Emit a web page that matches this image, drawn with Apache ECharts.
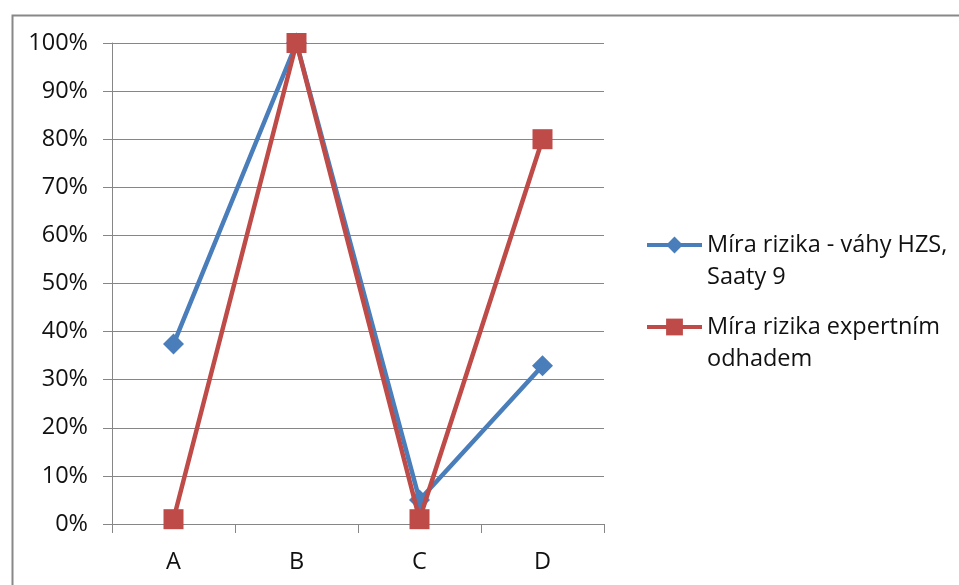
<!DOCTYPE html>
<html>
<head>
<meta charset="utf-8">
<script src="https://cdn.jsdelivr.net/npm/echarts@6/dist/echarts.min.js"></script>
<style>
  html, body { margin: 0; padding: 0; background: #fff; }
  #chart { width: 959px; height: 585px; }
</style>
</head>
<body>
<div id="chart"></div>
<script>
// Categories on the x axis
const categories = ['A', 'B', 'C', 'D'];
// Risk level by HZS weights (Saaty 9)
const seriesHZS = [0.374, 1.0, 0.05, 0.329];
// Risk level by expert estimate
const seriesExpert = [0.01, 1.0, 0.01, 0.80];
// Series names shown in the legend
const nameHZS = 'Míra rizika - váhy HZS,\nSaaty 9';
const nameExpert = 'Míra rizika expertním\nodhadem';

const FONT = 'Open Sans';
const FS = 23.5;
const GRAY = '#868686';
const BLUE = '#4A7EBB';
const RED = '#BE4B48';
const TEXT = '#111111';

const chart = echarts.init(document.getElementById('chart'), null, { renderer: 'canvas' });

chart.setOption({
  backgroundColor: '#ffffff',
  animation: false,
  textStyle: { fontFamily: FONT },
  graphic: [{
    type: 'rect',
    left: 10, top: 13,
    shape: { width: 1000, height: 700 },
    style: { fill: 'none', stroke: '#888888', lineWidth: 2 },
    silent: true
  }],
  grid: { left: 112, right: 355, top: 43, bottom: 61, containLabel: false },
  legend: {
    orient: 'vertical',
    left: 645, top: 197,
    padding: 0,
    itemWidth: 55,
    itemHeight: 21,
    itemGap: -14,
    selectedMode: false,
    lineStyle: { width: 4 },
    // a leading empty line keeps the first text line level with the icon
    formatter: name => '\n' + name,
    textStyle: {
      fontFamily: FONT, fontSize: FS, color: TEXT,
      lineHeight: 32
    },
    data: [nameHZS, nameExpert]
  },
  xAxis: {
    type: 'category',
    data: categories,
    boundaryGap: true,
    axisLine: { show: true, lineStyle: { color: GRAY, width: 1 } },
    axisTick: { show: true, alignWithLabel: false, length: 9, lineStyle: { color: GRAY } },
    axisLabel: { margin: 26, fontFamily: FONT, fontSize: FS, color: TEXT },
    splitLine: { show: false }
  },
  yAxis: {
    type: 'value',
    min: 0, max: 1, interval: 0.1,
    axisLine: { show: true, lineStyle: { color: GRAY, width: 1 } },
    axisTick: { show: true, length: 9, lineStyle: { color: GRAY } },
    axisLabel: {
      margin: 24, fontFamily: FONT, fontSize: FS, color: TEXT,
      formatter: v => Math.round(v * 100) + '%'
    },
    splitLine: { show: true, lineStyle: { color: GRAY, width: 1 } }
  },
  series: [
    {
      name: nameHZS,
      type: 'line',
      data: seriesHZS,
      symbol: 'diamond',
      symbolSize: 21,
      showAllSymbol: true,
      lineStyle: { color: BLUE, width: 4.5 },
      itemStyle: { color: BLUE },
      z: 2
    },
    {
      name: nameExpert,
      type: 'line',
      data: seriesExpert,
      symbol: 'rect',
      symbolSize: 20,
      showAllSymbol: true,
      lineStyle: { color: RED, width: 4.5 },
      itemStyle: { color: RED },
      z: 3
    }
  ]
});
</script>
</body>
</html>
